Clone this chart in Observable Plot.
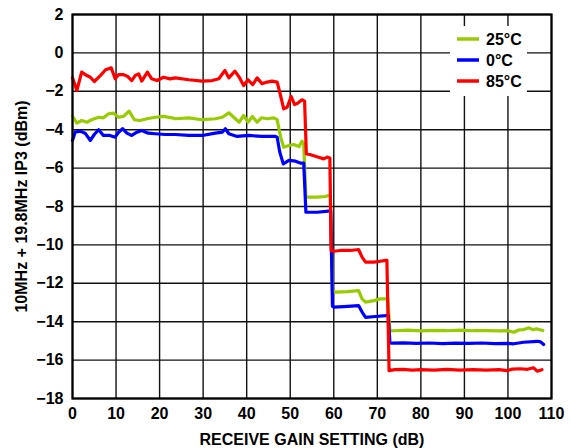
<!DOCTYPE html>
<html>
<head>
<meta charset="utf-8">
<script src="https://cdn.jsdelivr.net/npm/d3@7"></script>
<script src="https://cdn.jsdelivr.net/npm/@observablehq/plot@0.6"></script>
<style>
  html, body { margin: 0; padding: 0; background: #fff; }
  #chart { width: 571px; height: 448px; }
</style>
</head>
<body>
<div id="chart"></div>
<script>
// ---- Data ----
const xTicks = [0, 10, 20, 30, 40, 50, 60, 70, 80, 90, 100, 110];
const yTicks = [2, 0, -2, -4, -6, -8, -10, -12, -14, -16, -18];
const seriesNames = ["25°C", "0°C", "85°C"];
const seriesColors = ["#99cc00", "#0000ff", "#ff0000"];

const gain25 = [0, 1, 2.1, 3.3, 4.4, 6.0, 7.1, 8.3, 9.4, 10.6, 11.7, 13.0, 14.2, 15.5, 17.1, 19.0, 20.9, 22.8, 23.6, 26.7, 29.8, 32.8, 34.4, 35.9, 37.4, 38.3, 39.3, 40.3, 41.3, 42.4, 43.4, 44.7, 46.2, 47.0, 47.8, 48.5, 49.7, 50.8, 52.0, 52.7, 53.1, 53.6, 54.2, 56.2, 58.1, 58.8, 59.2, 59.7, 60.4, 63.1, 65.7, 66.5, 67.3, 69.2, 70.7, 71.9, 72.4, 72.9, 74, 77, 80, 83, 86, 89, 92, 95, 98, 100, 101.3, 102.5, 103.5, 104.8, 105.8, 106.5, 108];
const ip3_25 = [-3.3, -3.66, -3.52, -3.61, -3.48, -3.35, -3.38, -3.17, -3.14, -3.35, -3.31, -3.03, -3.48, -3.52, -3.43, -3.35, -3.31, -3.38, -3.43, -3.38, -3.48, -3.43, -3.35, -3.12, -3.43, -3.61, -3.26, -3.61, -3.31, -3.61, -3.38, -3.43, -3.38, -3.48, -4.39, -4.91, -4.82, -4.77, -4.88, -4.6, -4.74, -7.5, -7.51, -7.51, -7.48, -7.43, -7.45, -12.4, -12.46, -12.43, -12.38, -12.81, -12.98, -12.9, -12.81, -12.81, -12.8, -14.46, -14.47, -14.44, -14.48, -14.45, -14.47, -14.44, -14.47, -14.46, -14.48, -14.47, -14.55, -14.43, -14.42, -14.32, -14.42, -14.37, -14.46];

const gain0 = [0, 0.6, 1.8, 2.9, 4.1, 5.0, 6.0, 7.1, 8.6, 9.8, 10.6, 11.5, 12.5, 13.6, 14.8, 15.9, 17.4, 19.0, 21.3, 23.6, 26.7, 29.8, 32.8, 34.4, 35.1, 35.9, 37.8, 40.5, 43.5, 46.6, 47.0, 47.6, 48.4, 49.7, 51.2, 52.3, 53.1, 53.6, 54.0, 56.2, 58.8, 59.3, 59.7, 60.0, 62.3, 65.7, 66.5, 67.3, 69.6, 71.9, 72.5, 72.9, 73.4, 76, 79, 82, 85, 88, 91, 94, 97, 100, 101.3, 103.6, 106.7, 107.5, 108.2];
const ip3_0 = [-4.56, -4.13, -4.08, -4.18, -4.56, -4.25, -4.0, -4.3, -4.3, -4.39, -4.13, -3.95, -4.18, -4.3, -4.13, -4.04, -4.18, -4.21, -4.25, -4.25, -4.3, -4.3, -4.18, -4.13, -3.95, -4.21, -4.35, -4.3, -4.35, -4.35, -4.39, -5.17, -5.78, -5.6, -5.64, -5.74, -5.74, -8.3, -8.3, -8.3, -8.24, -8.24, -13.2, -13.24, -13.21, -13.16, -13.5, -13.77, -13.73, -13.68, -13.65, -15.1, -15.12, -15.1, -15.13, -15.11, -15.14, -15.12, -15.13, -15.11, -15.14, -15.13, -15.15, -15.07, -15.02, -15.05, -15.19];

const gain85 = [0, 1, 2.1, 3.3, 4.1, 5.0, 6.4, 7.6, 8.9, 9.8, 10.6, 11.7, 12.7, 13.6, 14.4, 15.2, 15.9, 17.2, 18.2, 19.4, 20.9, 22.4, 23.6, 26.7, 29.8, 32.1, 33.6, 35.0, 35.9, 37.3, 38.3, 39.3, 40.3, 41.4, 42.4, 43.5, 44.7, 45.8, 47.0, 47.6, 48.5, 49.3, 50.2, 51.0, 51.7, 52.7, 53.3, 53.7, 54.5, 56.5, 57.7, 58.5, 59.1, 59.4, 60.0, 61.5, 63.8, 65.7, 66.5, 67.3, 69.2, 70.7, 71.9, 72.2, 72.7, 74, 76, 78, 80, 83, 86, 89, 92, 95, 98, 99.8, 101, 102.8, 104.5, 105.9, 106.7, 107.8];
const ip3_85 = [-1.3, -1.96, -1.0, -1.18, -1.27, -1.49, -1.18, -0.88, -0.78, -1.35, -1.13, -1.13, -1.23, -1.44, -1.18, -1.09, -1.47, -1.0, -1.35, -1.44, -1.27, -1.35, -1.3, -1.4, -1.47, -1.44, -1.35, -0.92, -1.3, -0.95, -1.27, -1.7, -1.4, -1.65, -1.3, -1.6, -1.52, -1.47, -1.52, -2.05, -2.91, -2.83, -2.27, -2.69, -2.62, -2.44, -2.51, -5.26, -5.29, -5.43, -5.52, -5.43, -5.47, -10.3, -10.33, -10.29, -10.29, -10.24, -10.64, -10.9, -10.9, -10.85, -10.81, -10.8, -16.55, -16.5, -16.48, -16.52, -16.5, -16.52, -16.48, -16.52, -16.5, -16.52, -16.5, -16.55, -16.47, -16.45, -16.48, -16.4, -16.58, -16.5];

// ---- Build tables ----
const toRows = (xs, ys) => xs.map((x, i) => ({x, y: ys[i]}));
const rows = [toRows(gain25, ip3_25), toRows(gain0, ip3_0), toRows(gain85, ip3_85)];

const font = "'Liberation Sans', Arial, Helvetica, sans-serif";

const chart = Plot.plot({
  width: 571,
  height: 448,
  marginLeft: 72,
  marginRight: 20,
  marginTop: 14,
  marginBottom: 50,
  style: {fontFamily: font, fontWeight: "bold", fontSize: "16px", color: "#000", background: "#fff", overflow: "visible"},
  x: {domain: [0, 110]},
  y: {domain: [-18, 2]},
  marks: [
    Plot.gridX(xTicks, {stroke: "#111", strokeOpacity: 1, strokeWidth: 1.4}),
    Plot.gridY(yTicks, {stroke: "#111", strokeOpacity: 1, strokeWidth: 1.4}),
    ...rows.map((r, i) => Plot.line(r, {x: "x", y: "y", stroke: seriesColors[i], strokeWidth: 3.2, curve: "linear", strokeLinejoin: "round"})),
    Plot.frame({stroke: "#000", strokeWidth: 2.2}),
    Plot.axisX(xTicks, {tickSize: 0, tickPadding: 9, fontSize: 16, label: "RECEIVE GAIN SETTING (dB)", labelAnchor: "center", labelArrow: "none", labelOffset: 46}),
    Plot.axisY(yTicks, {tickSize: 0, tickPadding: 9, fontSize: 16, label: "10MHz + 19.8MHz IP3 (dBm)", labelAnchor: "center", labelArrow: "none", labelOffset: 57})
  ]
});

document.getElementById("chart").appendChild(chart);

// ---- Legend (drawn into the same SVG) ----
const svg = d3.select(chart);
const lg = svg.append("g").attr("class", "legend");
lg.append("rect").attr("x", 450).attr("y", 26).attr("width", 77).attr("height", 70).attr("fill", "#fff");
seriesNames.forEach((name, i) => {
  const cy = 39 + i * 21;
  lg.append("line").attr("x1", 457).attr("x2", 479).attr("y1", cy).attr("y2", cy)
    .attr("stroke", seriesColors[i]).attr("stroke-width", 3.5);
  lg.append("text").attr("x", 486).attr("y", cy).attr("dy", "0.36em")
    .attr("text-anchor", "start")
    .attr("font-family", font).attr("font-weight", "bold").attr("font-size", 16)
    .attr("fill", "#000").text(name);
});
</script>
</body>
</html>
